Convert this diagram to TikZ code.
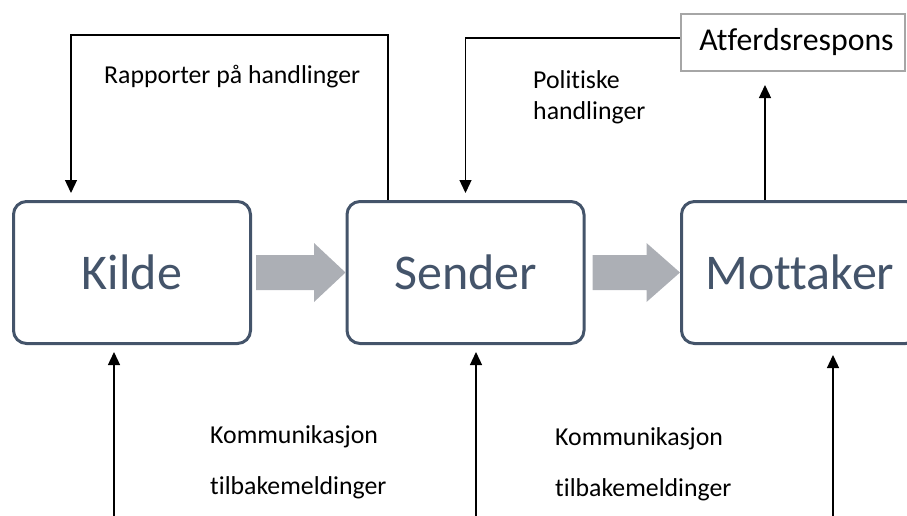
\documentclass[tikz,border=0pt]{standalone}
\usepackage{fontspec}
\setmainfont[Ligatures=NoCommon]{Carlito}
\usetikzlibrary{arrows.meta}
\definecolor{boxc}{HTML}{44546A}
\definecolor{arrc}{RGB}{172,175,181}
\definecolor{frc}{HTML}{A6A6A6}
\begin{document}
\begin{tikzpicture}[x=1pt,y=-1pt,
  mainbox/.style={draw=boxc, line width=3pt, rounded corners=13pt, minimum width=237pt, minimum height=142pt, inner sep=0pt, font=\fontsize{50}{60}\selectfont, text=boxc},
  lbl/.style={font=\fontsize{25.8}{31}\selectfont, inner sep=0pt, anchor=west, align=left},
  link/.style={line width=1.3pt, -{Triangle[width=12pt,length=13pt]}},
  bigarrow/.style={fill=arrc}]
\useasboundingbox (0,0) rectangle (907,515);
\clip (0,0) rectangle (907,515);

\node[mainbox] (kilde) at (132,272.5) {Kilde};
\node[mainbox] (sender) at (465.5,272.5) {Sender};
\node[mainbox] (mottaker) at (800,272.5) {Mottaker};

\node[draw=frc, line width=2pt, minimum width=224pt, minimum height=57pt, inner sep=0pt] (atf) at (793,42.5) {};
\node[font=\fontsize{31.8}{36}\selectfont, inner sep=0pt] (atft) at (796.5,42.5) {Atferdsrespons};

% big gray arrows
\fill[bigarrow] ([shift={(4,-17.5)}]kilde.east) -- ([shift={(62,-17.5)}]kilde.east) -- ([shift={(62,-29.5)}]kilde.east) -- (sender.west) -- ([shift={(62,29.5)}]kilde.east) -- ([shift={(62,17.5)}]kilde.east) -- ([shift={(4,17.5)}]kilde.east) -- cycle;
\fill[bigarrow] ([shift={(7,-17.5)}]sender.east) -- ([shift={(61,-17.5)}]sender.east) -- ([shift={(61,-29.5)}]sender.east) -- (mottaker.west) -- ([shift={(61,29.5)}]sender.east) -- ([shift={(61,17.5)}]sender.east) -- ([shift={(7,17.5)}]sender.east) -- cycle;

% labels
\node[lbl] (rap) at (104,77) {Rapporter på handlinger};
\node[lbl] (pol) at (533,97) {Politiske\\handlinger};
\node[lbl] (kom1) at (210,437) {Kommunikasjon};
\node[lbl] (tb1) at (210,488) {tilbakemeldinger};
\node[lbl] (kom2) at (555,439) {Kommunikasjon};
\node[lbl] (tb2) at (555,490) {tilbakemeldinger};

% top connectors
\coordinate (k1) at (388,35);
\coordinate (k2) at (71,35);
\draw[link, shorten >=7pt] (sender.north -| k1) -- (k1) -- (k2) -- (kilde.north -| k2);
\coordinate (p1) at (465,38);
\draw[link, shorten >=7pt] (atf.west |- p1) -| (sender.north);
\coordinate (m1) at (765,0);
\draw[link, shorten >=13pt] (mottaker.north -| m1) -- (atf.south -| m1);

% bottom connectors
\coordinate (b1) at (114,520);
\coordinate (b2) at (476,520);
\coordinate (b3) at (833,520);
\draw[link, shorten >=7pt] (b1) -- (kilde.south -| b1);
\draw[link, shorten >=7pt] (b2) -- (sender.south -| b2);
\draw[link, shorten >=10pt] (b3) -- (mottaker.south -| b3);
\end{tikzpicture}
\end{document}
